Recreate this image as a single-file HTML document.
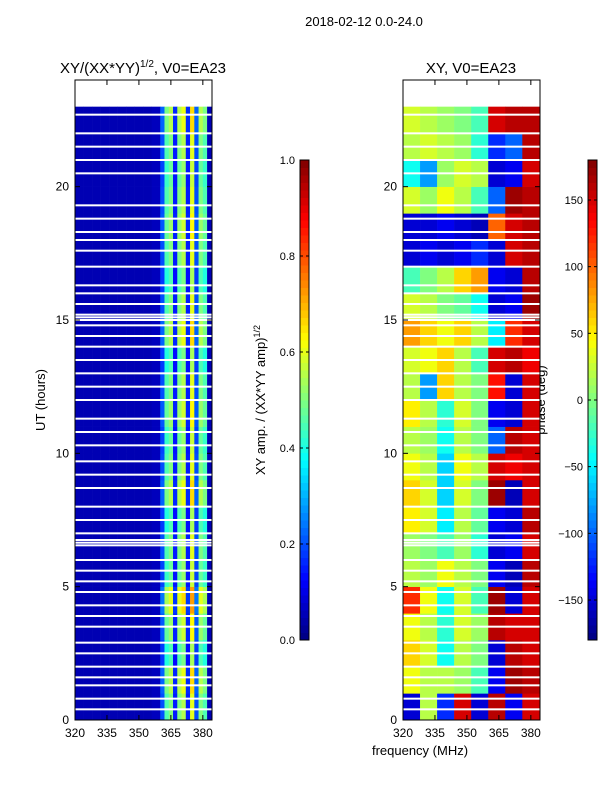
<!DOCTYPE html>
<html><head><meta charset="utf-8"><style>
body{margin:0;background:#fff;}
svg{display:block;font-family:"Liberation Sans",sans-serif;}
</style></head><body>
<svg id="c" width="600" height="800" xmlns="http://www.w3.org/2000/svg">
<rect width="600" height="800" fill="#fff"/>
<text x="364" y="26" font-size="13" text-anchor="middle">2018-02-12 0.0-24.0</text>
<text x="143" y="73" font-size="15" text-anchor="middle">XY/(XX*YY)<tspan font-size="10" dy="-6">1/2</tspan><tspan dy="6">, V0=EA23</tspan></text>
<text x="471" y="73" font-size="15" text-anchor="middle">XY, V0=EA23</text>
<text transform="translate(45,400) rotate(-90)" font-size="13" text-anchor="middle">UT (hours)</text>
<text x="420" y="755" font-size="13" text-anchor="middle">frequency (MHz)</text>
<text transform="translate(265,400) rotate(-90)" font-size="13" text-anchor="middle">XY amp. / (XX*YY amp)<tspan font-size="9" dy="-5">1/2</tspan></text>
<text transform="translate(545,400) rotate(-90)" font-size="13" text-anchor="middle">phase (deg)</text>
<g id="layer"></g>
</svg>
<script>
// ---- data ----
const ampFreqs = [320,324,328,332,336,340,344,348,352,356,360,362,364,366,368,370,372,374,376,378,380,382];
const ampValues = [0.05,0.05,0.05,0.05,0.05,0.05,0.05,0.05,0.05,0.06,0.2,0.45,0.5,0.15,0.5,0.55,0.15,0.6,0.2,0.5,0.45,0.05];
const hourMod = [1.0,1.1,0.9,1.05,1.2,0.95,1.0,0.9,1.1,1.0,0.95,1.05,1.0,0.9,1.1,1.0,0.9,1.0,1.05,1.0,0.95,1.0,1.1];
const gapHours = [22.7,22.0,21.5,21.0,20.5,19.3,18.8,18.3,18.0,17.6,17.0,16.3,16.0,15.6,15.0,15.1,15.2,14.8,14.4,14.0,13.5,13.0,12.5,12.0,11.3,10.8,10.3,9.7,9.2,8.7,8.0,7.5,7.0,6.55,6.65,6.75,6.0,5.6,5.2,4.8,4.3,3.9,3.5,2.9,2.5,2.0,1.6,1.3,0.8,0.4];
const phaseFreqs = [320,328,336,344,352,360,368,376];
// rows: hour 0-1 first ... 22-23 last
const phaseRows = [
[-150,20,-120,150,-150,160,-140,150],
[40,20,20,10,-20,-140,170,160],
[60,30,-40,20,0,-150,160,150],
[40,20,-30,30,10,160,150,150],
[120,40,-40,30,-20,170,-150,150],
[20,10,40,20,0,-140,-160,160],
[10,0,-20,10,-30,-150,-140,150],
[50,30,-50,20,-10,-140,-150,160],
[60,30,-60,30,0,170,-160,150],
[40,20,-60,40,20,150,140,150],
[20,10,-40,20,0,-100,160,150],
[50,20,-30,30,0,-140,-150,150],
[20,-80,60,20,0,130,-150,150],
[30,40,60,20,-20,150,160,140],
[80,60,40,60,20,-50,120,150],
[30,20,0,-10,-40,-150,-140,170],
[-20,0,20,60,80,-140,-150,160],
[-150,-140,-150,-140,-120,-150,150,160],
[-150,-150,-140,-150,-160,100,150,160],
[30,10,40,20,-20,-100,170,160],
[-40,-80,10,30,20,-150,-140,150],
[20,30,20,10,-30,-120,-100,160],
[30,20,10,0,-20,150,160,160]
];
const yTicks = [0,5,10,15,20];
const xTicks = [320,335,350,365,380];
const ampTicks = [0.0,0.2,0.4,0.6,0.8,1.0];
const phaseTicks = [-150,-100,-50,0,50,100,150];

// ---- helpers ----
const NS="http://www.w3.org/2000/svg";
const layer=document.getElementById('layer');
function mk(tag,attrs,parent){const e=document.createElementNS(NS,tag);for(const k in attrs)e.setAttribute(k,attrs[k]);(parent||layer).appendChild(e);return e;}
function jet(v){v=Math.max(0,Math.min(1,v));
 const r=Math.max(0,Math.min(1,1.5-Math.abs(4*v-3))),g=Math.max(0,Math.min(1,1.5-Math.abs(4*v-2))),b=Math.max(0,Math.min(1,1.5-Math.abs(4*v-1)));
 return `rgb(${Math.round(r*255)},${Math.round(g*255)},${Math.round(b*255)})`;}
const yTop=80,yBot=720,fMin=320,fMax=384.3;
function yS(h){return yBot-(h/24)*(yBot-yTop);}
function xS(px0,px1,f){return px0+(f-fMin)/(fMax-fMin)*(px1-px0);}
const panels=[{x0:75,x1:212},{x0:403,x1:540}];

// left amplitude panel
(function(){const p=panels[0];
 const g=mk('g',{});
 
 
 for(let h=0;h<23;h++){for(let i=0;i<ampFreqs.length;i++){
  const f0=ampFreqs[i],f1=i+1<ampFreqs.length?ampFreqs[i+1]:fMax;
  const x=xS(p.x0,p.x1,f0),w=xS(p.x0,p.x1,f1)-x;
  const v=ampValues[i]*(ampValues[i]>0.1?hourMod[h]:1);
  const c=mk('rect',{x:x,y:yS(h+1),width:w+0.3,height:yS(h)-yS(h+1)+0.3,fill:jet(v)},g);
  
  
 }}
})();
// right phase panel
(function(){const p=panels[1];
 const g=mk('g',{});
 
 
 for(let h=0;h<phaseRows.length;h++){for(let i=0;i<phaseFreqs.length;i++){
  const f0=phaseFreqs[i],f1=i+1<phaseFreqs.length?phaseFreqs[i+1]:fMax;
  const x=xS(p.x0,p.x1,f0),w=xS(p.x0,p.x1,f1)-x;
  const c=mk('rect',{x:x,y:yS(h+1),width:w+0.3,height:yS(h)-yS(h+1)+0.3,fill:jet((phaseRows[h][i]+180)/360)},g);
  
  
 }}
})();
// gaps (flagged rows) on both panels
panels.forEach(p=>{gapHours.forEach(h=>{
 const r=mk('rect',{x:p.x0,y:yS(h)-1,width:p.x1-p.x0,height:2,fill:'#fff'});
 
 
});});
// axes frames and ticks
panels.forEach((p,pi)=>{
 const fr=mk('rect',{x:p.x0,y:yTop,width:p.x1-p.x0,height:yBot-yTop,fill:'none',stroke:'#000','stroke-width':1});
 
 
 yTicks.forEach(t=>{const y=yS(t);
  mk('line',{x1:p.x0,x2:p.x0+5,y1:y,y2:y,stroke:'#000'});
  mk('line',{x1:p.x1,x2:p.x1-5,y1:y,y2:y,stroke:'#000'});
  const tx=mk('text',{x:p.x0-6,y:y+4,'font-size':12,'text-anchor':'end'});tx.textContent=t;
  
  
 });
 xTicks.forEach(t=>{const x=xS(p.x0,p.x1,t);
  mk('line',{x1:x,x2:x,y1:yBot,y2:yBot-5,stroke:'#000'});
  mk('line',{x1:x,x2:x,y1:yTop,y2:yTop+5,stroke:'#000'});
  const tx=mk('text',{x:x,y:yBot+17,'font-size':12,'text-anchor':'middle'});tx.textContent=t;
  
  
 });
});
// colorbars
function colorbar(x,ticks,lo,hi,name,fmt){
 const g=mk('g',{});
 
 
 const y0=160,y1=640,n=64;
 for(let i=0;i<n;i++){mk('rect',{x:x,y:y1-(i+1)*(y1-y0)/n,width:9,height:(y1-y0)/n+0.5,fill:jet((i+0.5)/n)},g);}
 mk('rect',{x:x,y:y0,width:9,height:y1-y0,fill:'none',stroke:'#000'},g);
 ticks.forEach(t=>{const y=y1-(t-lo)/(hi-lo)*(y1-y0);
  mk('line',{x1:x,x2:x+3,y1:y,y2:y,stroke:'#000'},g);
  mk('line',{x1:x+9,x2:x+6,y1:y,y2:y,stroke:'#000'},g);
  const tx=mk('text',{x:x-5,y:y+4,'font-size':11,'text-anchor':'end'},g);tx.textContent=fmt(t);
  
  
 });
}
colorbar(300,ampTicks,0,1,'amplitude-colorbar',t=>t.toFixed(1));
colorbar(588,phaseTicks,-180,180,'phase-colorbar',t=>t<0?'\u2212'+(-t):''+t);
</script>
</body></html>
